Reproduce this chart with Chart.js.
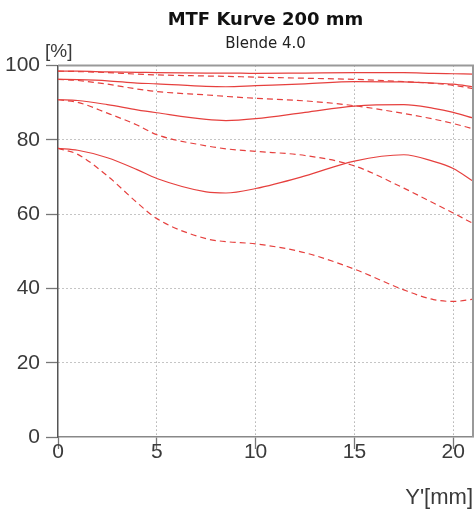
<!DOCTYPE html>
<html lang="de">
<head>
    <meta charset="UTF-8">
    <title>MTF Kurve 200 mm</title>
    <script src="https://cdn.jsdelivr.net/npm/chart.js@4"></script>
    <style>
        body {
            margin: 0;
            padding: 0;
            background: #fff;
        }
        .wrap {
            width: 474px;
            height: 512px;
            position: relative;
        }
    </style>
</head>
<body>
    <div class="wrap">
        <canvas id="mtfChart"></canvas>
    </div>

    <script>
        // Bildhoehe Y' in mm
        const xValues = [0, 1, 2.5, 4, 5, 7.5, 8.5, 10, 12.5, 15, 17.5, 19, 20, 21];

        // MTF in %, jeweils radial (durchgezogen) und tangential (gestrichelt)
        const mtf1Solid  = [98.5, 98.5, 98.3, 98.2, 98.1, 98.0, 98.0, 97.9, 98.0, 98.1, 98.1, 97.9, 97.8, 97.7];
        const mtf1Dashed = [98.5, 98.4, 98.1, 97.7, 97.5, 97.2, 97.1, 96.9, 96.6, 96.3, 95.7, 95.2, 94.7, 93.8];
        const mtf2Solid  = [96.3, 96.2, 95.9, 95.3, 95.1, 94.4, 94.3, 94.6, 95.1, 95.7, 95.6, 95.3, 95.0, 94.3];
        const mtf2Dashed = [96.3, 96.0, 95.0, 93.7, 93.0, 92.1, 91.7, 91.2, 90.5, 89.2, 87.1, 85.6, 84.4, 83.0];
        const mtf3Solid  = [90.8, 90.6, 89.5, 88.1, 87.3, 85.5, 85.2, 85.7, 87.4, 89.1, 89.5, 88.5, 87.4, 85.9];
        const mtf3Dashed = [90.8, 90.1, 87.2, 84.0, 81.4, 78.4, 77.6, 76.9, 75.8, 73.0, 67.0, 63.0, 60.3, 57.5];
        const mtf4Solid  = [77.7, 77.2, 75.2, 72.0, 69.6, 66.0, 65.7, 66.9, 70.3, 74.3, 76.0, 74.2, 72.3, 68.9];
        const mtf4Dashed = [77.7, 76.1, 70.3, 63.1, 58.8, 53.4, 52.6, 52.0, 49.6, 45.2, 39.6, 37.0, 36.5, 37.1];

        const xTicks = [0, 5, 10, 15, 20];
        const yTicks = [0, 20, 40, 60, 80, 100];

        const lineColor = '#e6403e';

        function makeSet(values, dashed) {
            return {
                data: xValues.map((x, i) => ({ x: x, y: values[i] })),
                borderColor: lineColor,
                borderWidth: 1.2,
                borderDash: dashed ? [6, 4] : [],
                pointRadius: 0,
                fill: false,
                cubicInterpolationMode: 'monotone'
            };
        }

        // Rahmen oben/rechts und Einheit [%]
        const framePlugin = {
            id: 'frame',
            afterDraw(chart) {
                const ctx = chart.ctx;
                const a = chart.chartArea;
                ctx.save();
                ctx.strokeStyle = '#999';
                ctx.lineWidth = 2;
                ctx.beginPath();
                ctx.moveTo(a.left, a.top);
                ctx.lineTo(a.right, a.top);
                ctx.lineTo(a.right, a.bottom);
                ctx.stroke();
                ctx.fillStyle = '#3a3a3a';
                ctx.font = '19px "Liberation Sans", Arial, sans-serif';
                ctx.textAlign = 'left';
                ctx.textBaseline = 'middle';
                ctx.fillText('[%]', a.left - 13, a.top - 14);
                ctx.restore();
            }
        };

        new Chart(document.getElementById('mtfChart'), {
            type: 'line',
            data: {
                datasets: [
                    makeSet(mtf1Solid, false), makeSet(mtf1Dashed, true),
                    makeSet(mtf2Solid, false), makeSet(mtf2Dashed, true),
                    makeSet(mtf3Solid, false), makeSet(mtf3Dashed, true),
                    makeSet(mtf4Solid, false), makeSet(mtf4Dashed, true)
                ]
            },
            options: {
                responsive: true,
                maintainAspectRatio: false,
                animation: false,
                layout: { padding: { left: 0, right: 1, top: 0, bottom: 0 } },
                plugins: {
                    legend: { display: false },
                    tooltip: { enabled: false },
                    title: {
                        display: true,
                        text: 'MTF Kurve 200 mm',
                        fullSize: false,
                        color: '#111',
                        font: { family: '"DejaVu Sans", sans-serif', size: 18, weight: 'bold' },
                        padding: { top: 10, bottom: 0 }
                    },
                    subtitle: {
                        display: true,
                        text: 'Blende 4.0',
                        fullSize: false,
                        color: '#222',
                        font: { family: '"DejaVu Sans", sans-serif', size: 15 },
                        padding: { top: 4, bottom: 12 }
                    }
                },
                scales: {
                    x: {
                        type: 'linear',
                        min: 0,
                        max: 21,
                        afterFit(scale) { scale.height = 75; },
                        afterBuildTicks(scale) { scale.ticks = xTicks.map(v => ({ value: v })); },
                        ticks: {
                            color: '#3a3a3a',
                            padding: -7,
                            font: { family: '"Liberation Sans", Arial, sans-serif', size: 21, lineHeight: 1 },
                            maxRotation: 0
                        },
                        grid: {
                            color: ctx => ctx.tick && ctx.tick.value === 0 ? 'rgba(0,0,0,0)' : '#8a8a8a',
                            lineWidth: 1,
                            tickLength: 12,
                            tickColor: '#777',
                            tickWidth: 1.3
                        },
                        border: { color: '#888', width: 1.5, dash: [1, 3] },
                        title: {
                            display: true,
                            text: "Y'[mm]",
                            align: 'end',
                            color: '#3a3a3a',
                            font: { family: '"Liberation Sans", Arial, sans-serif', size: 22 },
                            padding: { top: 0, bottom: 1 }
                        }
                    },
                    y: {
                        min: 0,
                        max: 100,
                        afterFit(scale) { scale.width = 58; },
                        afterBuildTicks(scale) { scale.ticks = yTicks.map(v => ({ value: v })); },
                        ticks: {
                            color: '#3a3a3a',
                            padding: 6,
                            font: { family: '"Liberation Sans", Arial, sans-serif', size: 21 }
                        },
                        grid: {
                            color: ctx => ctx.tick && (ctx.tick.value === 0 || ctx.tick.value === 100) ? 'rgba(0,0,0,0)' : '#8a8a8a',
                            lineWidth: 1,
                            tickLength: 12,
                            tickColor: '#777',
                            tickWidth: 1.3
                        },
                        border: { color: '#555', width: 1.5, dash: [1, 3] }
                    }
                }
            },
            plugins: [framePlugin]
        });
    </script>
</body>
</html>
